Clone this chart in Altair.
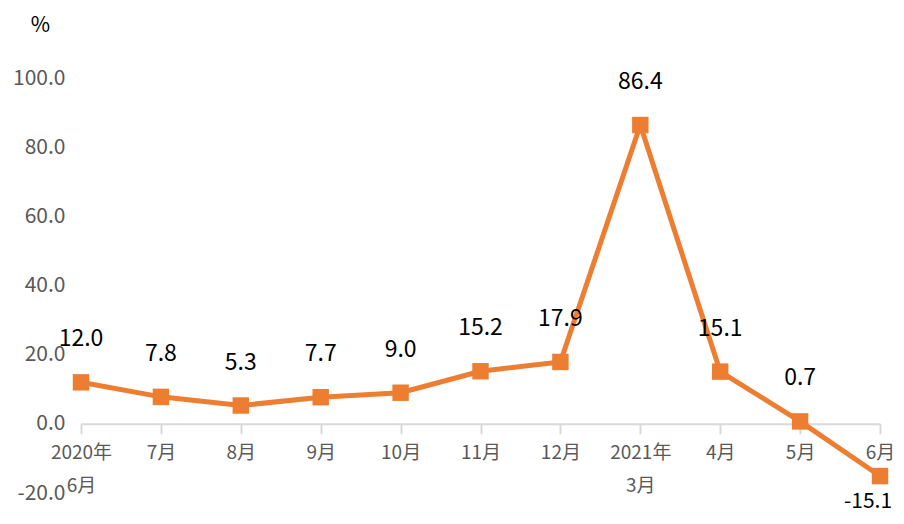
import altair as alt
import pandas as pd

months = ["2020年\n6月", "7月", "8月", "9月", "10月", "11月", "12月", "2021年\n3月", "4月", "5月", "6月"]
values = [12.0, 7.8, 5.3, 7.7, 9.0, 15.2, 17.9, 86.4, 15.1, 0.7, -15.1]
y_ticks = [-20, 0, 20, 40, 60, 80, 100]

df = pd.DataFrame({"month": months, "value": values})
df["label"] = [f"{v:.1f}" for v in values]

W, H = 799, 415
ORANGE = "#ED7D31"
GRAY = "#595959"
FONT = "Noto Sans CJK SC"

x = alt.X(
    "month:N",
    sort=months,
    scale=alt.Scale(type="point", padding=0),
    axis=alt.Axis(
        title=None,
        labelAngle=0,
        labelExpr="split(datum.label, '\\n')",
        labelFont=FONT,
        labelFontSize=19,
        labelColor=GRAY,
        labelLineHeight=33,
        labelPadding=10,
        domainColor="#d9d9d9",
        domainWidth=2,
        tickColor="#d9d9d9",
        tickWidth=2,
        tickSize=10,
        offset=-(H * 20 / 120),
        grid=False,
    ),
)

y = alt.Y(
    "value:Q",
    scale=alt.Scale(domain=[-20, 100], nice=False, zero=False),
    axis=alt.Axis(
        values=y_ticks,
        labelExpr="replace(format(datum.value, '.1f'), '\u2212', '-')",
        labelFont=FONT,
        labelFontSize=21,
        labelColor=GRAY,
        labelPadding=16,
        domain=False,
        ticks=False,
        grid=False,
        title="%",
        titleAngle=0,
        titleX=-41,
        titleY=-53,
        titleAlign="center",
        titleBaseline="middle",
        titleFont=FONT,
        titleFontSize=21,
        titleFontWeight="normal",
        titleColor="#000000",
    ),
)

base = alt.Chart(df)

line = base.mark_line(color=ORANGE, strokeWidth=5).encode(x=x, y=y)
pts = base.mark_point(shape="square", filled=True, color=ORANGE, opacity=1, size=270).encode(x=x, y=y)

lab_pos = base.transform_filter("datum.value >= 0").mark_text(
    dy=-43, font=FONT, fontSize=23, color="#000000"
).encode(x=x, y=y, text="label:N")
lab_neg = base.transform_filter("datum.value < 0").mark_text(
    dy=26, dx=-12, font=FONT, fontSize=21, color="#000000"
).encode(x=x, y=y, text="label:N")

chart = (
    alt.layer(line, pts, lab_pos, lab_neg)
    .properties(
        width=W,
        height=H,
        autosize=alt.AutoSizeParams(type="none"),
        padding={"left": 73, "top": 70, "right": 16, "bottom": 22},
    )
    .configure_view(stroke=None)
)

chart.save("out.html", embed_options={"renderer": "svg", "actions": False})
